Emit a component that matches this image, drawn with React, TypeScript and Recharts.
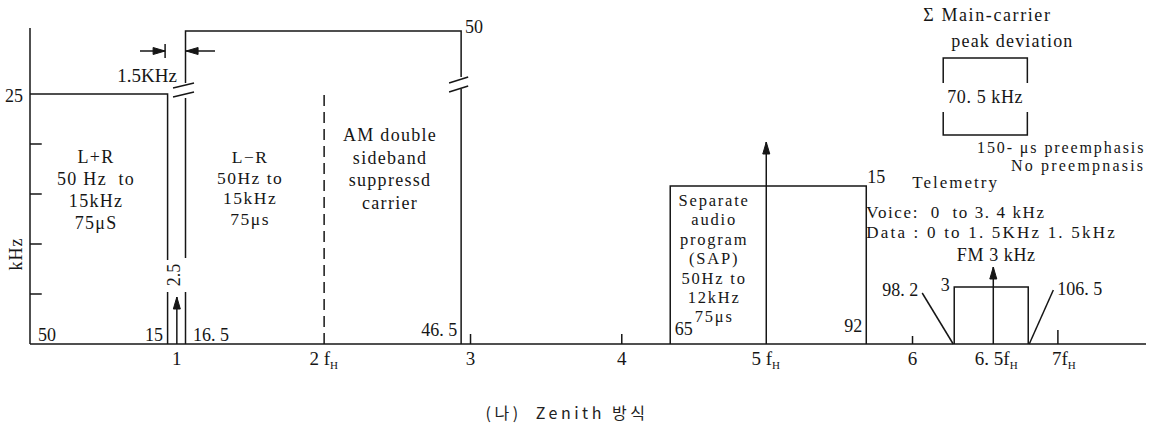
import React from "react";
import { ComposedChart, Line, Scatter, XAxis, YAxis } from "recharts";

document.body.style.margin = "0";

// Zenith MTS baseband, schematic (not to scale). x in multiples of fH, y in kHz deviation as drawn.
type Pt = [number, number];
const pts = (a: Pt[]) => a.map(([x, y]) => ({ x, y }));

const xTickPos = [1, 2, 3, 4.03, 5.01, 6.01, 6.58, 7.04];
const xTickText = ["1", "2 f_H", "3", "4", "5 f_H", "6", "6. 5f_H", "7f_H"];
const minorTickPos = [3, 4.03, 6.01, 7];
const minorTickLen = [1.0, 1.0, 0.8, 1.4];
const yTickPos = [5, 10, 15, 20];

const yAxisLine: Pt[] = [[0, 0], [0, 31.6]];
const lPlusR: Pt[] = [[0, 25], [0.937, 25], [0.937, 8.4]];
const lPlusRFoot: Pt[] = [[0.937, 5.2], [0.937, 0]];
const lMinusRFoot: Pt[] = [[1.059, 0], [1.059, 5.2]];
const lMinusRLeft: Pt[] = [[1.059, 8.6], [1.059, 24.6]];
const lMinusRTop: Pt[] = [[1.059, 26.1], [1.059, 31.3], [2.936, 31.3], [2.936, 26.7]];
const lMinusRRight: Pt[] = [[2.936, 25.5], [2.936, 0]];
const breakMarks: Pt[][] = [
  [[0.974, 25.6], [1.117, 26.1]],
  [[0.974, 24.7], [1.117, 25.2]],
  [[2.854, 26.1], [2.984, 26.7]],
  [[2.854, 25.2], [2.984, 25.8]],
];
const pilot2fH: Pt[] = [[2.003, 0], [2.003, 25.1]];
const sapBand: Pt[] = [[4.36, 0], [4.36, 15.8], [5.695, 15.8], [5.695, 0]];
const teleBand: Pt[] = [[6.294, 0], [6.294, 5.7], [6.798, 5.7], [6.798, 0]];
const teleLeaders: Pt[][] = [
  [[6.076, 5.1], [6.287, 0]],
  [[6.805, 0], [6.969, 5.4]],
];
const sumBox: Pt[][] = [
  [[6.219, 26.1], [6.219, 28.6], [6.792, 28.6], [6.792, 26.1]],
  [[6.219, 23.2], [6.219, 20.9], [6.792, 20.9], [6.792, 23.2]],
];
const carriers: Pt[][] = [
  [[1.0, 0], [1.0, 4.7]],
  [[5.014, 0], [5.014, 20.2]],
  [[6.56, 0], [6.56, 7.7]],
];
const dimension: Pt[][] = [
  [[0.749, 29.3], [0.92, 29.3]],
  [[1.26, 29.3], [1.063, 29.3]],
  [[0.92, 30.0], [0.92, 28.6]],
];
const arrowTips = [
  { x: 1.0, y: 4.7, dir: "up" },
  { x: 5.014, y: 20.2, dir: "up" },
  { x: 6.56, y: 7.7, dir: "up" },
  { x: 0.92, y: 29.3, dir: "right" },
  { x: 1.063, y: 29.3, dir: "left" },
];

const notes = [
  { x: 0, y: 24.8, text: "25", anchor: "end", dx: -7, fs: 18 },
  { x: 0, y: 9.0, text: "kHz", anchor: "middle", dx: -14, fs: 18, rot: -90, ls: 1 },
  { x: 1.0, y: 26.9, text: "1.5KHz", anchor: "end", fs: 19 },
  { x: 0.45, y: 18.7, text: "L+R\n50 Hz  to\n15kHz\n75μS", anchor: "middle", lh: 22, fs: 18, ls: 1.3 },
  { x: 1.499, y: 18.7, text: "L−R\n50Hz to\n15kHz\n75μs", anchor: "middle", lh: 20.7, fs: 17.5, ls: 1.5 },
  { x: 2.452, y: 20.9, text: "AM double\nsideband\nsuppressd\ncarrier", anchor: "middle", lh: 22.7, fs: 18, ls: 1.3 },
  { x: 4.659, y: 14.4, text: "Separate\naudio\nprogram\n(SAP)\n50Hz to\n12kHz\n75μs", anchor: "middle", lh: 19.4, fs: 16.5, ls: 1.8 },
  { x: 0.98, y: 6.9, text: "2.5", anchor: "middle", fs: 18, rot: -90 },
  { x: 0.054, y: 0.9, text: "50", anchor: "start", fs: 18 },
  { x: 0.906, y: 0.9, text: "15", anchor: "end", fs: 18 },
  { x: 1.11, y: 0.9, text: "16. 5", anchor: "start", fs: 18 },
  { x: 2.909, y: 1.4, text: "46. 5", anchor: "end", fs: 18 },
  { x: 2.963, y: 31.7, text: "50", anchor: "start", fs: 18 },
  { x: 4.36, y: 1.5, text: " 65", anchor: "start", fs: 18 },
  { x: 5.668, y: 1.8, text: "92", anchor: "end", fs: 18 },
  { x: 5.702, y: 16.7, text: "15", anchor: "start", fs: 18 },
  { x: 6.008, y: 16.2, text: "Telemetry", anchor: "start", fs: 17, ls: 2 },
  { x: 5.695, y: 13.2, text: "Voice:  0  to 3. 4 kHz", anchor: "start", fs: 17, ls: 1.6 },
  { x: 5.695, y: 11.2, text: "Data : 0 to 1. 5KHz 1. 5kHz", anchor: "start", fs: 17, ls: 2.2 },
  { x: 6.58, y: 8.9, text: "FM 3 kHz", anchor: "middle", fs: 18, ls: 0.6 },
  { x: 6.049, y: 5.4, text: "98. 2", anchor: "end", fs: 18 },
  { x: 6.233, y: 5.9, text: "3", anchor: "middle", fs: 18 },
  { x: 6.996, y: 5.5, text: "106. 5", anchor: "start", fs: 18 },
  { x: 6.083, y: 32.9, text: "Σ Main-carrier", anchor: "start", fs: 18, ls: 1.6 },
  { x: 6.274, y: 30.3, text: "peak deviation", anchor: "start", fs: 18, ls: 1.2 },
  { x: 6.505, y: 24.7, text: "70. 5 kHz", anchor: "middle", fs: 18, ls: 0.6 },
  { x: 7.595, y: 19.7, text: "150- μs preemphasis", anchor: "end", fs: 16, ls: 1.9 },
  { x: 7.595, y: 17.9, text: "No preempnasis", anchor: "end", fs: 16, ls: 2.2 },
];

const INK = "#161616";
const SERIF = "'Liberation Serif', 'DejaVu Serif', serif";

const NoteShape = (p: any) => {
  const n = p.payload;
  const x = p.cx + (n.dx ?? 0);
  const y = p.cy;
  const lines: string[] = n.text.split("\n");
  const lh = n.lh ?? 22;
  return (
    <text
      x={x}
      y={y}
      textAnchor={n.anchor}
      dominantBaseline="central"
      fontFamily={SERIF}
      fontSize={n.fs ?? 20}
      letterSpacing={n.ls ?? 0}
      fill={INK}
      style={{ whiteSpace: "pre", fontFamily: SERIF }}
      transform={n.rot ? `rotate(${n.rot} ${x} ${y})` : undefined}
    >
      {lines.map((l, i) => (
        <tspan key={i} x={x} dy={i === 0 ? 0 : lh}>
          {l}
        </tspan>
      ))}
    </text>
  );
};

const ArrowHead = (p: any) => {
  const { cx, cy } = p;
  const d = p.payload.dir;
  const L = 12;
  const W = 3.5;
  let poly = `${cx},${cy} ${cx - W},${cy + L} ${cx + W},${cy + L}`;
  if (d === "right") poly = `${cx},${cy} ${cx - L},${cy - W} ${cx - L},${cy + W}`;
  if (d === "left") poly = `${cx},${cy} ${cx + L},${cy - W} ${cx + L},${cy + W}`;
  return <polygon points={poly} fill={INK} stroke={INK} strokeWidth={1} />;
};

const XTick = (p: any) => {
  const i = xTickPos.findIndex((v) => Math.abs(v - p.payload.value) < 1e-6);
  const [main, sub] = (xTickText[i] ?? "").split("_");
  return (
    <text
      x={p.x}
      y={p.y}
      dy="0.71em"
      textAnchor="middle"
      fontFamily={SERIF}
      fontSize={19}
      fill={INK}
      style={{ whiteSpace: "pre", fontFamily: SERIF }}
    >
      {main}
      {sub && (
        <tspan fontSize={11} dy={4}>
          {sub}
        </tspan>
      )}
    </text>
  );
};

let k = 0;
const seg = (data: Pt[], dash?: string) => (
  <Line
    key={`s${k++}`}
    data={pts(data)}
    dataKey="y"
    type="linear"
    stroke={INK}
    strokeWidth={1.5}
    strokeDasharray={dash}
    dot={false}
    activeDot={false}
    legendType="none"
    isAnimationActive={false}
  />
);

export default function App() {
  k = 0;
  const yTicks: Pt[][] = yTickPos.map((v) => [[0, v], [0.08, v]]);
  const xMinor: Pt[][] = minorTickPos.map((p, i) => [[p, 0], [p, minorTickLen[i]]]);
  return (
    <div style={{ position: "relative", width: 1160, height: 425, background: "#fff", fontFamily: SERIF }}>
      <ComposedChart width={1160} height={425} margin={{ top: 0, right: 14, bottom: 0, left: 30 }}>
        <XAxis
          dataKey="x"
          type="number"
          domain={[0, 7.6]}
          ticks={xTickPos}
          interval={0}
          tick={XTick}
          tickLine={false}
          axisLine={{ stroke: INK, strokeWidth: 1.5 }}
          height={81}
        />
        <YAxis type="number" domain={[0, 34.4]} hide />
        {seg(yAxisLine)}
        {yTicks.map((t) => seg(t))}
        {xMinor.map((t) => seg(t))}
        {seg(lPlusR)}
        {seg(lPlusRFoot)}
        {seg(lMinusRFoot)}
        {seg(lMinusRLeft)}
        {seg(lMinusRTop)}
        {seg(lMinusRRight)}
        {breakMarks.map((b) => seg(b))}
        {seg(pilot2fH, "11 6")}
        {seg(sapBand)}
        {seg(teleBand)}
        {teleLeaders.map((b) => seg(b))}
        {sumBox.map((b) => seg(b))}
        {carriers.map((b) => seg(b))}
        {dimension.map((b) => seg(b))}
        <Scatter data={arrowTips} dataKey="y" shape={ArrowHead} isAnimationActive={false} />
        <Scatter data={notes} dataKey="y" shape={NoteShape} isAnimationActive={false} />
      </ComposedChart>
      <div
        style={{
          position: "absolute",
          top: 400,
          left: 0,
          width: 1134,
          textAlign: "center",
          fontFamily: "'Noto Sans CJK KR', 'Noto Sans', sans-serif",
          fontSize: 16,
          letterSpacing: 3.5,
          whiteSpace: "pre",
          color: "#222",
        }}
      >
        (나)  Zenith 방식
      </div>
    </div>
  );
}
